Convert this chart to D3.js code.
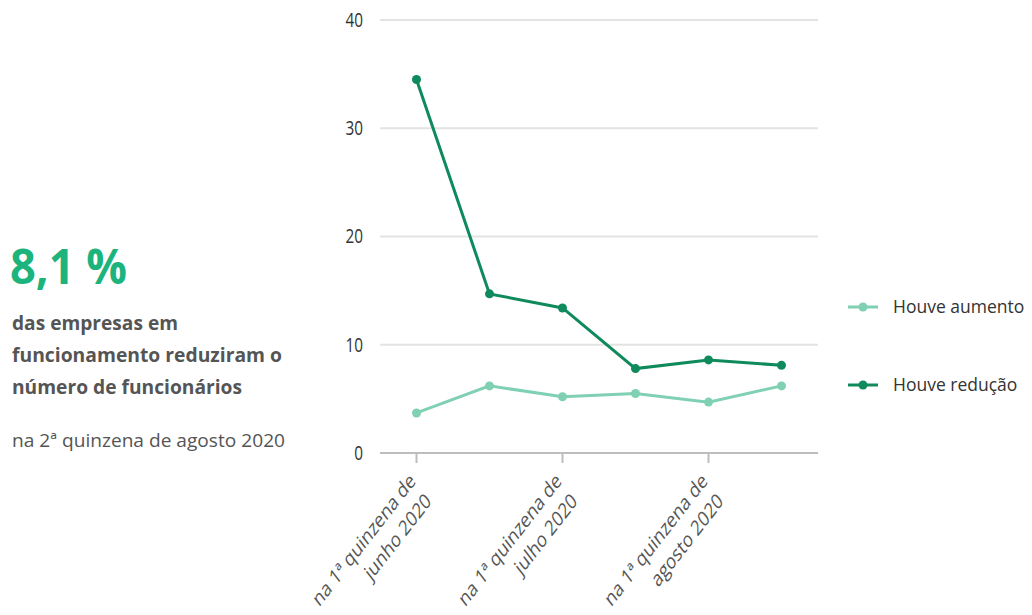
<!DOCTYPE html>
<html>
<head>
<meta charset="utf-8">
<script src="https://cdn.jsdelivr.net/npm/d3@7"></script>
<style>
  body { margin: 0; background: #fff; }
  svg text { font-family: "Open Sans", "Noto Sans", sans-serif; }
</style>
</head>
<body>
<svg id="chart" width="1032" height="615"></svg>
<script>
var categories = [
  "na 1ª quinzena de|junho 2020",
  "na 2ª quinzena de|junho 2020",
  "na 1ª quinzena de|julho 2020",
  "na 2ª quinzena de|julho 2020",
  "na 1ª quinzena de|agosto 2020",
  "na 2ª quinzena de|agosto 2020"
];
var aumento = [3.7, 6.2, 5.2, 5.5, 4.7, 6.2];
var reducao = [34.5, 14.7, 13.4, 7.8, 8.6, 8.1];
var yTicks = [0, 10, 20, 30, 40];
var seriesNames = ["Houve aumento", "Houve redução"];

var colors = ["#80d0b4", "#0e8a5c"];

var svg = d3.select("#chart");

var x = d3.scalePoint().domain(categories).range([380, 818]).padding(0.5);
var y = d3.scaleLinear().domain([0, 40]).range([453, 20]);

// gridlines
svg.append("g")
  .selectAll("line")
  .data(yTicks)
  .enter().append("line")
    .attr("x1", 380).attr("x2", 818)
    .attr("y1", function(d) { return y(d); })
    .attr("y2", function(d) { return y(d); })
    .attr("stroke", function(d) { return d === 0 ? "#bdbdbd" : "#e3e3e3"; })
    .attr("stroke-width", 2);

// y labels
svg.append("g")
  .selectAll("text")
  .data(yTicks)
  .enter().append("text")
    .attr("transform", function(d) { return "translate(363," + y(d) + ") scale(0.9,1.15)"; })
    .attr("dy", "0.35em")
    .attr("text-anchor", "end")
    .attr("fill", "#333")
    .style("font-size", "17px")
    .text(function(d) { return d; });

// x ticks (every other category)
var shown = categories.filter(function(d, i) { return i % 2 === 0; });
var xt = svg.append("g").selectAll("g")
  .data(shown)
  .enter().append("g")
    .attr("transform", function(d) { return "translate(" + x(d) + ",453)"; });

xt.append("line")
  .attr("y1", 0).attr("y2", 10)
  .attr("stroke", "#bdbdbd").attr("stroke-width", 2);

var lbl = xt.append("text")
  .attr("transform", "scale(1,1.29) rotate(-45)")
  .attr("text-anchor", "end")
  .attr("fill", "#555")
  .style("font-size", "16.5px");
lbl.each(function(d) {
  var parts = d.split("|");
  var t = d3.select(this);
  t.append("tspan").attr("x", -16).attr("y", 16).text(parts[0]);
  t.append("tspan").attr("x", -16).attr("dy", "1.35em").text(parts[1]);
});

// lines
var line = d3.line()
  .x(function(d, i) { return x(categories[i]); })
  .y(function(d) { return y(d); });

[aumento, reducao].forEach(function(s, k) {
  svg.append("path")
    .datum(s)
    .attr("d", line)
    .attr("fill", "none")
    .attr("stroke", colors[k])
    .attr("stroke-width", 3);
  svg.append("g").selectAll("circle")
    .data(s)
    .enter().append("circle")
      .attr("cx", function(d, i) { return x(categories[i]); })
      .attr("cy", function(d) { return y(d); })
      .attr("r", 4.5)
      .attr("fill", colors[k]);
});

// legend
var legend = svg.append("g").selectAll("g")
  .data(seriesNames)
  .enter().append("g")
    .attr("transform", function(d, i) { return "translate(848," + (307 + i * 78) + ")"; });
legend.append("line")
  .attr("x1", 0).attr("x2", 30)
  .attr("stroke", function(d, i) { return colors[i]; })
  .attr("stroke-width", 3);
legend.append("circle")
  .attr("cx", 15).attr("r", 4.5)
  .attr("fill", function(d, i) { return colors[i]; });
legend.append("text")
  .attr("x", 45).attr("dy", "0.35em")
  .attr("fill", "#333")
  .style("font-size", "17.5px")
  .text(function(d) { return d; });

// left annotation
var note = svg.append("g");
note.append("text")
  .attr("x", 10).attr("y", 284)
  .attr("fill", "#1cb47c")
  .style("font-size", "48px").style("font-weight", "bold")
  .attr("textLength", 117).attr("lengthAdjust", "spacingAndGlyphs")
  .text("8,1 %");
var bodyLines = ["das empresas em", "funcionamento reduziram o", "número de funcionários"];
var bodyWidths = [166, 270, 230];
note.selectAll(".body")
  .data(bodyLines)
  .enter().append("text")
    .attr("class", "body")
    .attr("x", 12)
    .attr("y", function(d, i) { return 330 + i * 32; })
    .attr("fill", "#555")
    .style("font-size", "19px").style("font-weight", "bold")
    .attr("textLength", function(d, i) { return bodyWidths[i]; })
    .attr("lengthAdjust", "spacingAndGlyphs")
    .text(function(d) { return d; });
note.append("text")
  .attr("x", 12).attr("y", 447)
  .attr("fill", "#555")
  .style("font-size", "19px")
  .attr("textLength", 273).attr("lengthAdjust", "spacingAndGlyphs")
  .text("na 2ª quinzena de agosto 2020");
</script>
</body>
</html>
